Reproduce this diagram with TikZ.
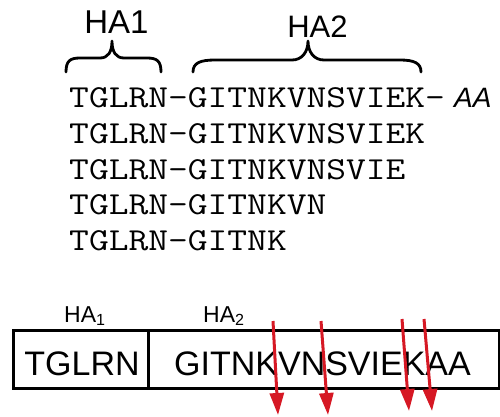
\documentclass[tikz,border=0pt]{standalone}
\usepackage{fontspec}
\setmainfont{Liberation Sans}
\usetikzlibrary{arrows.meta}
\definecolor{cutred}{RGB}{214,24,36}
\tikzset{
  seq/.style={anchor=base west, inner sep=0pt, xscale=1.2, transform shape, font=\ttfamily\fontsize{32}{34}\selectfont},
  toplabel/.style={anchor=base, inner sep=0pt},
  brace/.style={line width=2.8pt, line cap=round, line join=round},
  boxline/.style={line width=3pt},
  boxtext/.style={anchor=base, inner sep=0pt, font=\fontsize{34}{36}\selectfont},
  halabel/.style={anchor=base west, inner sep=0pt, font=\fontsize{23}{25}\selectfont},
  cut/.style={cutred, line width=3pt, -{Triangle[length=22pt,width=14pt]}}
}
\begin{document}
\begin{tikzpicture}[x=1pt,y=-1pt]
\useasboundingbox (0,0) rectangle (500,416);
% top labels
\node[toplabel, font=\fontsize{33}{35}\selectfont] (ha1) at (116.5,33) {HA1};
\node[toplabel, font=\fontsize{31}{33}\selectfont] (ha2) at (317.5,37) {HA2};
% braces
\draw[brace] (66,72) .. controls (66,61) and (70,58) .. (80,58) -- (100,58)
  .. controls (108,58) and (112,52) .. (112,41)
  .. controls (112,52) and (116,58) .. (124,58) -- (147,58)
  .. controls (157,58) and (161,61) .. (161,72);
\draw[brace] (193,72) .. controls (193,63) and (200,60) .. (215,60) -- (292,60)
  .. controls (302,60) and (308,52) .. (308,41)
  .. controls (308,52) and (314,60) .. (324,60) -- (400,60)
  .. controls (414,60) and (421,63) .. (421,72);
% sequences
\node[seq] (s1) at (69,107) {TGLRN-GITNKVNSVIEK-};
\node[anchor=base west, inner sep=0pt, font=\itshape\fontsize{28}{30}\selectfont] (aa) at (454,107) {AA};
\node[seq] (s2) at (69,143) {TGLRN-GITNKVNSVIEK};
\node[seq] (s3) at (69,179) {TGLRN-GITNKVNSVIE};
\node[seq] (s4) at (69,214) {TGLRN-GITNKVN};
\node[seq] (s5) at (69,250) {TGLRN-GITNK};
% bottom box
\draw[boxline] (13,330) rectangle (499,388);
\draw[boxline] (148,330) -- (148,388);
\node[boxtext] (t1) at (82,375) {TGLRN};
\node[boxtext] (t2) at (322.5,375) {GITNKVNSVIEKAA};
\node[halabel] (h1) at (64,322) {HA$_{\mathrm{1}}$};
\node[halabel] (h2) at (203,322) {HA$_{\mathrm{2}}$};
% cleavage arrows
\coordinate (a1s) at (273,321); \coordinate (a1e) at (278,415);
\coordinate (a2s) at (321,321); \coordinate (a2e) at (328,415);
\coordinate (a3s) at (402,319); \coordinate (a3e) at (409,411);
\coordinate (a4s) at (424,319); \coordinate (a4e) at (432,411);
\draw[cut] (a1s) -- (a1e);
\draw[cut] (a2s) -- (a2e);
\draw[cut] (a3s) -- (a3e);
\draw[cut] (a4s) -- (a4e);
\end{tikzpicture}
\end{document}
